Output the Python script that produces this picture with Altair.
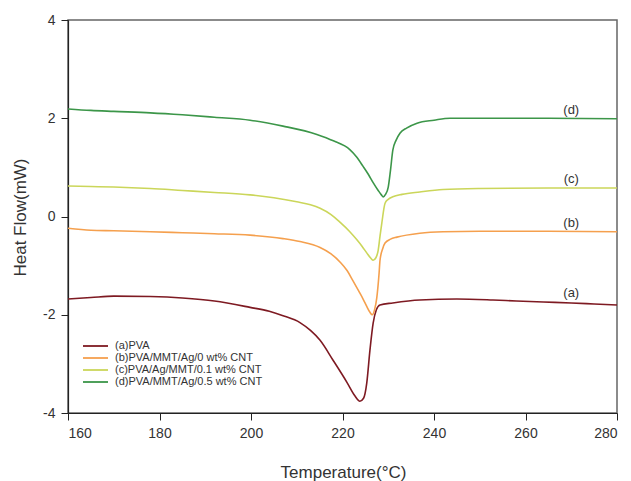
import altair as alt
import pandas as pd

# ---- data ----
series_names = [
    "(a)PVA",
    "(b)PVA/MMT/Ag/0 wt% CNT",
    "(c)PVA/Ag/MMT/0.1 wt% CNT",
    "(d)PVA/MMT/Ag/0.5 wt% CNT",
]
series_colors = ["#7e1a22", "#f5a04e", "#cbd65a", "#3c9649"]

a_temp = [160, 165, 170, 178, 185, 192, 199.8, 204, 207, 210.7, 213, 215.1, 217.9, 221, 222.7,
          223.8, 224.6, 225.3, 226, 226.7, 227.4, 228.2, 231, 236.9, 245, 252.9, 258, 263.9, 270, 275, 280]
a_flow = [-1.68, -1.65, -1.62, -1.63, -1.66, -1.72, -1.85, -1.93, -2.02, -2.16, -2.32, -2.52, -2.92, -3.38, -3.65,
          -3.76, -3.70, -3.39, -2.72, -2.17, -1.90, -1.80, -1.76, -1.70, -1.68, -1.70, -1.72, -1.74, -1.76, -1.78, -1.80]

b_temp = [160, 165, 170, 178, 185, 192, 199.8, 207, 210.7, 215.1, 217.5, 219.5, 221, 222.3, 223.5, 224.5,
          225.3, 226, 226.5, 227, 227.5, 228, 228.2, 228.8, 229.3, 230.5, 231.9, 236.9, 242, 250, 265, 280]
b_flow = [-0.24, -0.28, -0.29, -0.31, -0.33, -0.35, -0.38, -0.45, -0.51, -0.63, -0.76, -0.93, -1.10, -1.31, -1.51, -1.68,
          -1.83, -1.95, -2.00, -1.90, -1.65, -1.15, -0.89, -0.65, -0.54, -0.46, -0.42, -0.34, -0.31, -0.30, -0.30, -0.31]

c_temp = [160, 165, 170, 178, 185, 192, 199.8, 205, 210, 213, 215.1, 217.5, 219.5, 221.5, 223.1, 224.3, 225.3,
          226.2, 226.7, 227.3, 227.8, 228.2, 228.6, 229.3, 230, 231, 233, 236.9, 242, 250, 265, 280]
c_flow = [0.62, 0.61, 0.60, 0.57, 0.53, 0.49, 0.44, 0.38, 0.30, 0.24, 0.17, 0.04, -0.12, -0.30, -0.47, -0.61, -0.74,
          -0.85, -0.89, -0.84, -0.69, -0.40, -0.13, 0.27, 0.35, 0.40, 0.45, 0.50, 0.55, 0.57, 0.58, 0.58]

d_temp = [160, 165, 170, 178, 185, 192, 199.8, 207, 214.4, 218, 221.6, 223, 224.5, 225.7, 226.7, 227.8,
          228.5, 228.9, 229.4, 230, 230.5, 231, 231.7, 232.6, 234, 236.3, 240, 243.5, 250, 265, 280]
d_flow = [2.19, 2.16, 2.14, 2.11, 2.07, 2.02, 1.96, 1.84, 1.67, 1.54, 1.36, 1.22, 1.02, 0.85, 0.69, 0.53,
          0.44, 0.40, 0.45, 0.60, 0.95, 1.35, 1.55, 1.70, 1.80, 1.90, 1.96, 2.00, 2.00, 2.00, 1.99]

label_text = ["(a)", "(b)", "(c)", "(d)"]
label_temp = [270, 270, 270, 270]
label_flow = [-1.55, -0.13, 0.76, 2.17]

x_ticks = [160, 180, 200, 220, 240, 260, 280]
y_ticks = [-4, -2, 0, 2, 4]

# ---- build tables ----
rows = []
for name, ts, fs in zip(series_names, [a_temp, b_temp, c_temp, d_temp], [a_flow, b_flow, c_flow, d_flow]):
    for t, f in zip(ts, fs):
        rows.append({"series": name, "temp": t, "flow": f})
df = pd.DataFrame(rows)
labels = pd.DataFrame({"text": label_text, "temp": label_temp, "flow": label_flow})

FONT = "Liberation Sans"

x_scale = alt.Scale(domain=[160, 280], nice=False, zero=False)
y_scale = alt.Scale(domain=[-4, 4], nice=False, zero=False)

lines = alt.Chart(df).mark_line(strokeWidth=1.6, interpolate="monotone").encode(
    x=alt.X("temp:Q", scale=x_scale,
            axis=alt.Axis(values=x_ticks, title="Temperature(°C)", grid=False,
                          titleX=275, titleY=64, titleBaseline="alphabetic", titleAlign="center")),
    y=alt.Y("flow:Q", scale=y_scale,
            axis=alt.Axis(values=y_ticks, title="Heat Flow(mW)", grid=False,
                          labelExpr="'' + datum.value",
                          titleX=-43, titleY=197, titleAngle=-90,
                          titleBaseline="alphabetic", titleAlign="center")),
    color=alt.Color("series:N",
                    scale=alt.Scale(domain=series_names, range=series_colors),
                    legend=alt.Legend(title=None, orient="none", legendX=14, legendY=320,
                                      symbolType="M-1,0H1", symbolSize=625, symbolStrokeWidth=1.8,
                                      clipHeight=12,
                                      labelFontSize=11, labelFont=FONT, labelColor="#333333",
                                      labelOffset=6, rowPadding=0, padding=0, labelLimit=300)),
    order=alt.Order("temp:Q"),
    detail="series:N",
)

texts = alt.Chart(labels).mark_text(fontSize=13, font=FONT, color="#333333", baseline="middle").encode(
    x=alt.X("temp:Q", scale=x_scale),
    y=alt.Y("flow:Q", scale=y_scale),
    text="text:N",
)

chart = (lines + texts).properties(
    width=549, height=393,
    autosize=alt.AutoSizeParams(type="none"),
    padding={"left": 60, "top": 12, "right": 6, "bottom": 68},
).configure_view(
    stroke="#666666", strokeWidth=1.5
).configure_axis(
    labelFont=FONT, labelFontSize=14, labelColor="#333333",
    titleFont=FONT, titleFontSize=17, titleFontWeight="normal", titleColor="#333333",
    domainColor="#222222", domainWidth=1.2, tickColor="#222222", tickSize=7, labelPadding=6,
)

chart.save("out.html", embed_options={"renderer": "svg", "actions": False})
